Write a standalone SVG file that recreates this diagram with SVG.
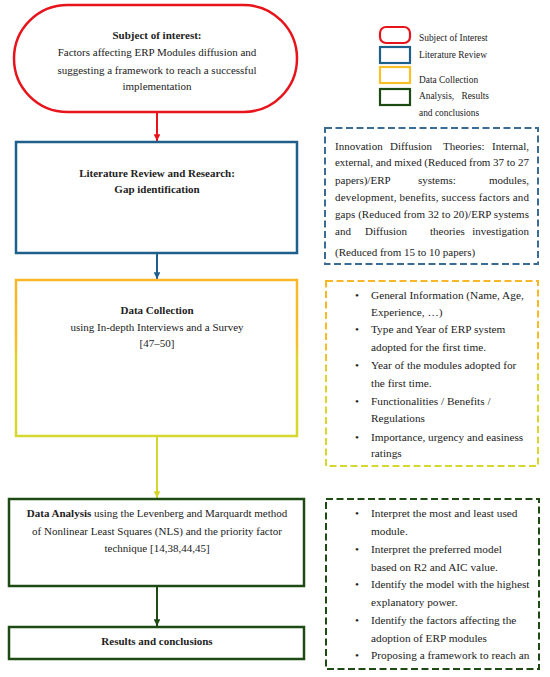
<svg xmlns="http://www.w3.org/2000/svg" width="550" height="677" viewBox="0 0 550 677">
<style>
text{font-family:"Liberation Serif","Times New Roman",serif;font-size:11px;fill:#222}
.c{text-anchor:middle}
.b{font-weight:bold}
.e{text-anchor:end}
.n{font-size:11.3px}
.lg{font-size:9.4px}
.box{fill:#fff;stroke-width:2.5}
.dash{fill:#fff;stroke-width:2;stroke-dasharray:7 3.5}
</style>
<defs>
<linearGradient id="yg" x1="0" y1="0" x2="0" y2="1">
<stop offset="0" stop-color="#F9B628"/>
<stop offset="0.4" stop-color="#F5BE2A"/>
<stop offset="0.5" stop-color="#DCD52C"/>
<stop offset="1" stop-color="#D6D82E"/>
</linearGradient>
<marker id="ar" viewBox="0 0 10 10" refX="10" refY="5" markerWidth="3.4" markerHeight="3.4" orient="auto" markerUnits="strokeWidth"><path d="M0,0L10,5L0,10z" fill="#E8141C"/></marker>
<marker id="ab" viewBox="0 0 10 10" refX="10" refY="5" markerWidth="3.4" markerHeight="3.4" orient="auto" markerUnits="strokeWidth"><path d="M0,0L10,5L0,10z" fill="#1F5F8B"/></marker>
<marker id="ay" viewBox="0 0 10 10" refX="10" refY="5" markerWidth="3.4" markerHeight="3.4" orient="auto" markerUnits="strokeWidth"><path d="M0,0L10,5L0,10z" fill="#D4D62C"/></marker>
<marker id="ag" viewBox="0 0 10 10" refX="10" refY="5" markerWidth="3.4" markerHeight="3.4" orient="auto" markerUnits="strokeWidth"><path d="M0,0L10,5L0,10z" fill="#1E4B14"/></marker>
</defs>
<rect width="550" height="677" fill="#fff"/>

<g id="connectors" stroke-width="2">
<line x1="157" y1="112" x2="157" y2="141" stroke="#E8141C" marker-end="url(#ar)"/>
<line x1="157" y1="254" x2="157" y2="279" stroke="#1F5F8B" marker-end="url(#ab)"/>
<line x1="157" y1="437" x2="157" y2="498" stroke="#D4D62C" marker-end="url(#ay)"/>
<line x1="157" y1="587" x2="157" y2="626" stroke="#1E4B14" marker-end="url(#ag)"/>
</g>

<g id="subject">
<rect class="box" x="14" y="5" width="283" height="107" rx="53.5" stroke="#E8141C"/>
<text class="c b" x="157" y="39">Subject of interest:</text>
<text class="c" x="157" y="56">Factors affecting ERP Modules diffusion and</text>
<text class="c" x="157" y="74">suggesting a framework to reach a successful</text>
<text class="c" x="157" y="90">implementation</text>
</g>

<g id="literature">
<rect class="box" x="16" y="142" width="281" height="111" stroke="#1F5F8B"/>
<text class="c b" x="157" y="177">Literature Review and Research:</text>
<text class="c b" x="157" y="193">Gap identification</text>
</g>

<g id="datacollection">
<rect class="box" x="16" y="280" width="281" height="156" stroke="url(#yg)"/>
<text class="c b" x="157" y="314">Data Collection</text>
<text class="c" x="157" y="331">using In-depth Interviews and a Survey</text>
<text class="c" x="157" y="347">[47–50]</text>
</g>

<g id="analysis">
<rect class="box" x="9" y="499" width="295" height="87" stroke="#1E4B14"/>
<text class="c" x="157" y="517"><tspan class="b">Data Analysis</tspan> using the Levenberg and Marquardt method</text>
<text class="c" x="157" y="535">of Nonlinear Least Squares (NLS) and the priority factor</text>
<text class="c" x="157" y="552">technique [14,38,44,45]</text>
</g>

<g id="results">
<rect class="box" x="9" y="627" width="295" height="32" stroke="#1E4B14"/>
<text class="c b" x="157" y="645">Results and conclusions</text>
</g>

<g id="legend">
<rect x="380" y="27" width="30" height="16" rx="6" fill="#fff" stroke="#E8141C" stroke-width="2.2"/>
<rect x="380" y="47" width="30" height="16" fill="#fff" stroke="#1F5F8B" stroke-width="2.2"/>
<rect x="380" y="67" width="30" height="16" fill="#fff" stroke="#F9C02A" stroke-width="2.2"/>
<rect x="380" y="89" width="30" height="16" fill="#fff" stroke="#1E4B14" stroke-width="2.2"/>
<text class="lg" x="419" y="41">Subject of Interest</text>
<text class="lg" x="419" y="58">Literature Review</text>
<text class="lg" x="419" y="83">Data Collection</text>
<text class="lg" x="419" y="99">Analysis,</text>
<text class="lg e" x="489" y="99">Results</text>
<text class="lg" x="419" y="116">and conclusions</text>
</g>

<g id="litnotes">
<rect class="dash" x="325" y="128" width="213" height="136" stroke="#3A6C96"/>
<text x="335" y="150">Innovation</text><text x="390" y="150">Diffusion</text><text x="443" y="150">Theories:</text><text class="e" x="529" y="150">Internal,</text>
<text x="335" y="166" textLength="194" lengthAdjust="spacing">external, and mixed (Reduced from 37 to 27</text>
<text x="335" y="184">papers)/ERP</text><text x="418" y="184">systems:</text><text class="e" x="529" y="184">modules,</text>
<text x="335" y="201" textLength="194" lengthAdjust="spacing">development, benefits, success factors and</text>
<text x="335" y="218" textLength="194" lengthAdjust="spacing">gaps (Reduced from 32 to 20)/ERP systems</text>
<text x="335" y="235">and</text><text x="365" y="235">Diffusion</text><text x="430" y="235">theories</text><text class="e" x="529" y="235">investigation</text>
<text x="335" y="256">(Reduced from 15 to 10 papers)</text>
</g>

<g id="collectnotes">
<rect class="dash" x="326" y="281" width="212" height="185" stroke="url(#yg)"/>
<text class="n" x="355" y="299">•</text><text class="n" x="371" y="299">General Information (Name, Age,</text>
<text class="n" x="371" y="316">Experience, …)</text>
<text class="n" x="355" y="333">•</text><text class="n" x="371" y="333">Type and Year of ERP system</text>
<text class="n" x="371" y="351">adopted for the first time.</text>
<text class="n" x="355" y="369">•</text><text class="n" x="371" y="369">Year of the modules adopted for</text>
<text class="n" x="371" y="387">the first time.</text>
<text class="n" x="355" y="405">•</text><text class="n" x="371" y="405">Functionalities / Benefits /</text>
<text class="n" x="371" y="422">Regulations</text>
<text class="n" x="355" y="441">•</text><text class="n" x="371" y="441">Importance, urgency and easiness</text>
<text class="n" x="371" y="457">ratings</text>
</g>

<g id="analysisnotes">
<rect class="dash" x="326" y="499" width="213" height="170" stroke="#1E4B14"/>
<text class="n" x="355" y="517">•</text><text class="n" x="371" y="517">Interpret the most and least used</text>
<text class="n" x="371" y="535">module.</text>
<text class="n" x="355" y="553">•</text><text class="n" x="371" y="553">Interpret the preferred model</text>
<text class="n" x="371" y="571">based on R2 and AIC value.</text>
<text class="n" x="355" y="588">•</text><text class="n" x="371" y="588">Identify the model with the highest</text>
<text class="n" x="371" y="606">explanatory power.</text>
<text class="n" x="355" y="624">•</text><text class="n" x="371" y="624">Identify the factors affecting the</text>
<text class="n" x="371" y="642">adoption of ERP modules</text>
<text class="n" x="355" y="659">•</text><text class="n" x="371" y="659">Proposing a framework to reach an</text>
</g>
</svg>
